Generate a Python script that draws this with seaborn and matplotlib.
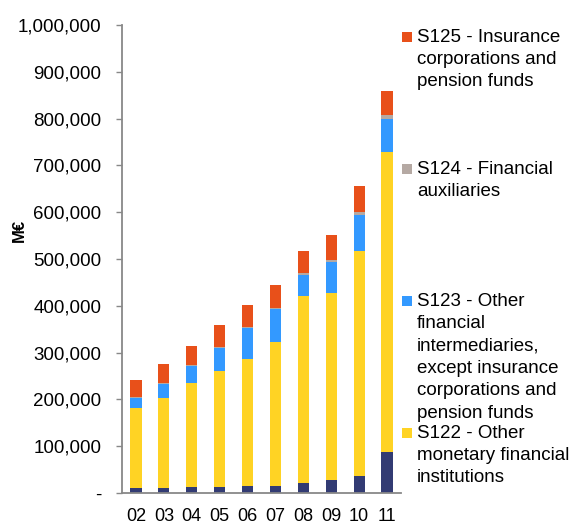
import numpy as np
import pandas as pd
import matplotlib
matplotlib.use("Agg")
import matplotlib.pyplot as plt
from matplotlib.patches import Rectangle
from matplotlib.ticker import FuncFormatter, FixedLocator
import seaborn as sns

# Year labels and holdings per sub-sector (M€)
years = ["02", "03", "04", "05", "06", "07", "08", "09", "10", "11"]
s121 = [11000, 11000, 12000, 12000, 14000, 16000, 22000, 27000, 36000, 88000]
s122 = [170000, 193000, 222000, 248000, 272000, 307000, 398000, 400000, 482000, 640000]
s123 = [23000, 29000, 37000, 50000, 66000, 70000, 45000, 66000, 77000, 71000]
s124 = [2000, 2000, 2000, 2000, 2000, 2000, 5000, 5000, 6000, 8000]
s125 = [36000, 40000, 42000, 46000, 48000, 49000, 48000, 53000, 55000, 51000]

series_names = [
    "S121",
    "S122 - Other\nmonetary financial\ninstitutions",
    "S123 - Other\nfinancial\nintermediaries,\nexcept insurance\ncorporations and\npension funds",
    "S124 - Financial\nauxiliaries",
    "S125 - Insurance\ncorporations and\npension funds",
]
series_values = [s121, s122, s123, s124, s125]
colors = ["#323B73", "#FFD324", "#3399FF", "#B5A9A3", "#E8501A"]

sns.set_theme(style="white")
plt.rcParams["font.family"] = ["Liberation Sans", "DejaVu Sans"]

fig = plt.figure(figsize=(5.78, 5.25), dpi=100)
ax = fig.add_axes([122 / 578, 1 - 493 / 525, (401 - 122) / 578, (493 - 25) / 525])

df = pd.DataFrame({"year": years})
bottom = np.zeros(len(years))
for name, vals, col in zip(series_names, series_values, colors):
    vals = np.asarray(vals, dtype=float)
    sns.barplot(x=df["year"], y=vals, bottom=bottom, color=col, width=0.4,
                linewidth=0, saturation=1, ax=ax)
    bottom = bottom + vals

ax.set_xlim(-0.5, len(years) - 0.5)
ax.set_ylim(0, 1_000_000)
ax.set_yticks(np.arange(0, 1_000_001, 100_000))
ax.yaxis.set_major_formatter(FuncFormatter(lambda v, p: "-" if v == 0 else f"{int(v):,}"))

# category boundary ticks on the x axis, labels at bar centres
ax.xaxis.set_major_locator(FixedLocator(np.arange(-0.5, len(years), 1.0)))
ax.xaxis.set_minor_locator(FixedLocator(np.arange(len(years))))
ax.set_xticklabels([], minor=False)
ax.set_xticklabels(years, minor=True)
ax.tick_params(axis="x", which="major", length=5, width=1, color="#888888", direction="out")
ax.tick_params(axis="x", which="minor", length=0, pad=10.5, labelsize=13, labelcolor="#000000")
ax.tick_params(axis="y", length=4, width=1, color="#888888", direction="out", pad=11,
               labelsize=13.5, labelcolor="#000000", left=True)
ax.set_xlabel("")
ax.set_ylabel("")
fig.text(19 / 578, 1 - 230 / 525, "M€", rotation=90, ha="center", va="center",
         fontsize=12, fontweight="bold", color="#000000")

for side in ["top", "right"]:
    ax.spines[side].set_visible(False)
for side in ["left", "bottom"]:
    ax.spines[side].set_color("#888888")
    ax.spines[side].set_linewidth(1.3)

# legend entries, top-aligned in evenly spaced slots
legend_items = list(zip(series_names, colors))[::-1][:4]
slot_top = [26, 158, 290, 422]
for (name, col), ytop in zip(legend_items, slot_top):
    fig.patches.append(Rectangle((402 / 578, 1 - (ytop + 16) / 525), 10 / 578, 10 / 525,
                                 transform=fig.transFigure, facecolor=col, edgecolor="none"))
    fig.text(417 / 578, 1 - (ytop + 2.5) / 525, name, ha="left", va="top", fontsize=13.5,
             linespacing=1.42, color="#000000")

fig.savefig("out.png", dpi=100)
